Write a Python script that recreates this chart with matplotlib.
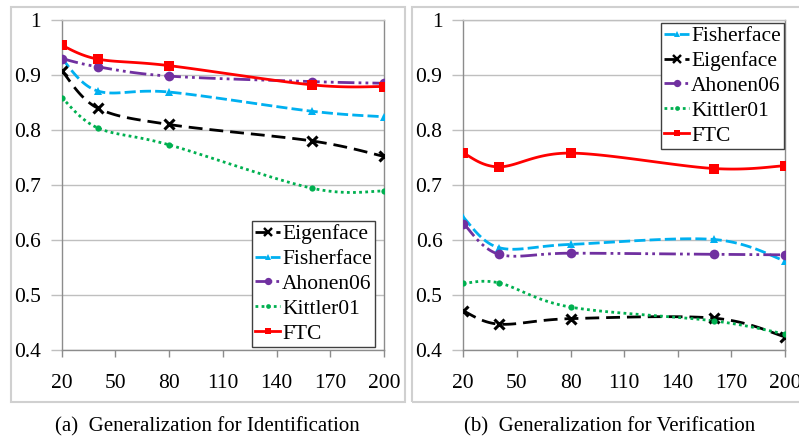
import numpy as np
import matplotlib
matplotlib.use("Agg")
import matplotlib.pyplot as plt
from matplotlib.lines import Line2D
from matplotlib.patches import Rectangle

plt.rcParams['font.family'] = ['Liberation Serif', 'DejaVu Serif']

x = [20, 40, 80, 160, 200]

# (a) identification
id_eigen = [0.908, 0.840, 0.810, 0.780, 0.752]
id_fisher = [0.930, 0.871, 0.869, 0.834, 0.824]
id_ahonen = [0.930, 0.915, 0.898, 0.888, 0.885]
id_kittler = [0.859, 0.804, 0.773, 0.694, 0.689]
id_ftc = [0.954, 0.929, 0.917, 0.882, 0.879]

# (b) verification
ver_fisher = [0.641, 0.586, 0.592, 0.601, 0.562]
ver_eigen = [0.471, 0.447, 0.457, 0.458, 0.424]
ver_ahonen = [0.630, 0.574, 0.576, 0.574, 0.573]
ver_kittler = [0.521, 0.522, 0.478, 0.453, 0.429]
ver_ftc = [0.758, 0.733, 0.758, 0.730, 0.735]

styles = {
    'Eigenface': dict(color='black', dashes=(5, 2.5), marker='x', ms=7, mew=2.2),
    'Fisherface': dict(color='#00B0F0', dashes=(4, 1.5), marker='^', ms=6, mew=0),
    'Ahonen06': dict(color='#7030A0', dashes=(6, 1.5, 1, 1.5, 1, 1.5), marker='o', ms=7, mew=0),
    'Kittler01': dict(color='#00B050', dashes=(1, 1.2), marker='o', ms=4.5, mew=0),
    'FTC': dict(color='#FF0000', dashes=None, marker='s', ms=6.5, mew=0),
}


def smooth(xs, ys, n=30):
    # excel-like smoothed line: bezier segments with catmull-rom control points
    p = np.column_stack([xs, ys]).astype(float)
    p_ext = np.vstack([p[0], p, p[-1]])
    out = []
    t = np.linspace(0, 1, n)[:, None]
    for i in range(len(p) - 1):
        p0, p3 = p[i], p[i + 1]
        c1 = p0 + (p_ext[i + 2] - p_ext[i]) / 6
        c2 = p3 - (p_ext[i + 3] - p_ext[i + 1]) / 6
        seg = (1 - t) ** 3 * p0 + 3 * (1 - t) ** 2 * t * c1 + 3 * (1 - t) * t ** 2 * c2 + t ** 3 * p3
        out.append(seg)
    seg = np.vstack(out)
    return seg[:, 0], seg[:, 1]


def draw_series(ax, name, ys):
    st = styles[name]
    sx, sy = smooth(x, ys)
    line, = ax.plot(sx, sy, color=st['color'], lw=2, zorder=3)
    if st['dashes']:
        line.set_dashes(st['dashes'])
    ax.plot(x, ys, linestyle='none', marker=st['marker'], ms=st['ms'],
            color=st['color'], mew=st['mew'], zorder=4)


def handle(name):
    st = styles[name]
    h = Line2D([], [], color=st['color'], lw=2, marker=st['marker'],
               ms=st['ms'] * 0.75, mew=st['mew'] * 0.8)
    if st['dashes']:
        h.set_dashes(st['dashes'])
    return h


W, H = 799, 442
fig = plt.figure(figsize=(W / 100, H / 100), dpi=100)


def px_axes(x0, x1, y0, y1):
    return fig.add_axes([x0 / W, 1 - y1 / H, (x1 - x0) / W, (y1 - y0) / H])


# panel frames
fig.patches.append(Rectangle((11 / W, 1 - 402 / H), (405 - 11) / W, (402 - 7) / H,
                             transform=fig.transFigure, fill=False, ec='#d0d0d0', lw=1.5))
fig.patches.append(Rectangle((412 / W, 1 - 402 / H), (820 - 412) / W, (402 - 7) / H,
                             transform=fig.transFigure, fill=False, ec='#d0d0d0', lw=1.5))

ax1 = px_axes(61.7, 384, 20, 350)
ax2 = px_axes(463.3, 785, 20, 350)

for ax in (ax1, ax2):
    ax.set_xlim(20, 200)
    ax.set_ylim(0.4, 1.0)
    ax.set_xticks(np.arange(20, 201, 30))
    ax.set_yticks(np.arange(0.4, 1.01, 0.1))
    ax.set_yticklabels(['0.4', '0.5', '0.6', '0.7', '0.8', '0.9', '1'])
    ax.yaxis.grid(True, color='#bfbfbf', lw=1)
    ax.set_axisbelow(True)
    for s in ax.spines.values():
        s.set_color('#8c8c8c')
        s.set_linewidth(1)
    ax.spines['top'].set_color('#bfbfbf')
    ax.tick_params(axis='x', direction='out', length=5, width=1, color='#8c8c8c',
                   labelsize=15.5, pad=12)
    ax.tick_params(axis='y', direction='out', length=8, width=1, color='#bfbfbf',
                   labelsize=15.5, pad=7)

id_order = ['Eigenface', 'Fisherface', 'Ahonen06', 'Kittler01', 'FTC']
id_vals = [id_eigen, id_fisher, id_ahonen, id_kittler, id_ftc]
for name, ys in zip(id_order, id_vals):
    draw_series(ax1, name, ys)

ver_order = ['Fisherface', 'Eigenface', 'Ahonen06', 'Kittler01', 'FTC']
ver_vals = [ver_fisher, ver_eigen, ver_ahonen, ver_kittler, ver_ftc]
for name, ys in zip(ver_order, ver_vals):
    draw_series(ax2, name, ys)

leg_kw = dict(loc='upper left', fontsize=15.5, handlelength=1.15, handletextpad=0.1,
              labelspacing=0.22, borderpad=0.15, borderaxespad=0, fancybox=False,
              framealpha=1, edgecolor='#404040')
leg1 = ax1.legend([handle(n) for n in id_order], id_order,
                  bbox_to_anchor=(252 / W, 1 - 221 / H), bbox_transform=fig.transFigure, **leg_kw)
leg2 = ax2.legend([handle(n) for n in ver_order], ver_order,
                  bbox_to_anchor=(661 / W, 1 - 23 / H), bbox_transform=fig.transFigure, **leg_kw)
for leg in (leg1, leg2):
    leg.get_frame().set_linewidth(1)
    leg.set_zorder(5)

fig.text(207 / W, 1 - 427 / H, '(a)  Generalization for Identification',
         ha='center', va='center', fontsize=15)
fig.text(610 / W, 1 - 427 / H, '(b)  Generalization for Verification',
         ha='center', va='center', fontsize=15)

fig.savefig('out.png', dpi=100)
